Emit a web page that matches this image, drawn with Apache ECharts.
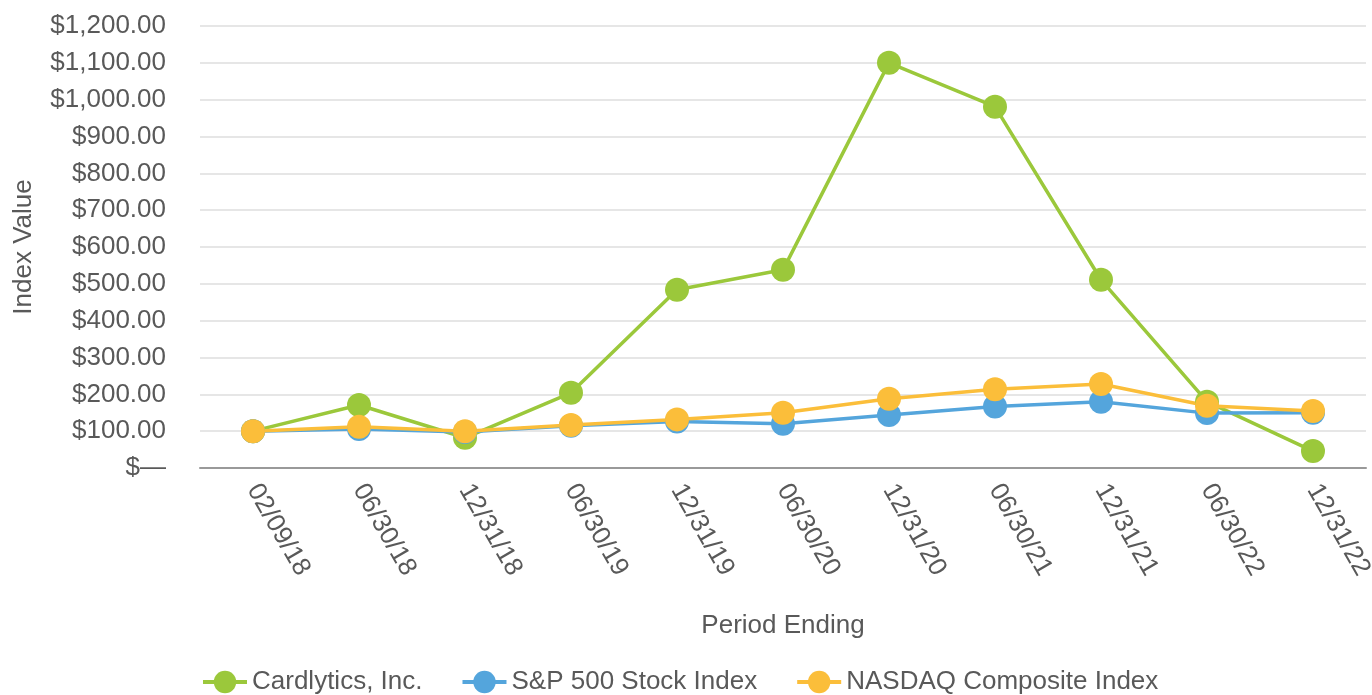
<!DOCTYPE html>
<html>
<head>
<meta charset="utf-8">
<script src="https://cdn.jsdelivr.net/npm/echarts@6/dist/echarts.min.js"></script>
<style>
  html, body { margin: 0; padding: 0; background: #fff; }
  #main { width: 1372px; height: 695px; }
</style>
</head>
<body>
<div id="main"></div>
<script>
const periods = ['02/09/18', '06/30/18', '12/31/18', '06/30/19', '12/31/19', '06/30/20', '12/31/20', '06/30/21', '12/31/21', '06/30/22', '12/31/22'];
const cardlytics = [100, 171, 82, 204, 484, 538, 1100, 981, 511, 180, 46];
const sp500 = [100, 106, 98, 115, 126, 120, 144, 167, 180, 149, 150];
const nasdaq = [100, 112, 100, 117, 132, 150, 188, 214, 228, 169, 155];

const textColor = '#595959';
const font = 'Liberation Sans, Arial, sans-serif';

function money(v) {
  if (v === 0) return '$\u2014';
  return '$' + v.toLocaleString('en-US', { minimumFractionDigits: 2, maximumFractionDigits: 2 });
}

function line(name, data, color) {
  return {
    name: name,
    type: 'line',
    data: data,
    symbol: 'circle',
    symbolSize: 24,
    lineStyle: { width: 3.5, color: color },
    itemStyle: { color: color },
    emphasis: { disabled: true }
  };
}

let myChart = echarts.init(document.getElementById('main'));
myChart.setOption({
  animation: false,
  textStyle: { fontFamily: font, color: textColor },
  grid: { left: 200, right: 6, top: 26, bottom: 227, containLabel: false, outerBoundsMode: 'none' },
  legend: {
    top: 664,
    left: 196,
    itemWidth: 44,
    itemHeight: 28,
    itemGap: 38,
    lineStyle: { width: 4 },
    textStyle: { fontSize: 26, color: textColor, fontFamily: font },
    data: ['Cardlytics, Inc.', 'S&P 500 Stock Index', 'NASDAQ Composite Index']
  },
  xAxis: {
    type: 'category',
    data: periods,
    boundaryGap: true,
    name: 'Period Ending',
    nameLocation: 'middle',
    nameGap: 145,
    nameTextStyle: { fontSize: 26, color: textColor },
    axisLine: { lineStyle: { color: '#999', width: 2 } },
    axisTick: { alignWithLabel: true, length: 10, lineStyle: { color: '#999', width: 2 } },
    axisLabel: { rotate: -60, fontSize: 26, color: textColor, margin: 18 }
  },
  yAxis: {
    type: 'value',
    min: 0,
    max: 1200,
    interval: 100,
    name: 'Index Value',
    nameLocation: 'middle',
    nameGap: 163,
    nameTextStyle: { fontSize: 26, color: textColor },
    axisLine: { show: false },
    axisTick: { show: false },
    splitLine: { lineStyle: { color: '#e6e6e6', width: 2 } },
    axisLabel: { fontSize: 26, color: textColor, margin: 34, formatter: money }
  },
  series: [
    line('Cardlytics, Inc.', cardlytics, '#9BC83B'),
    line('S&P 500 Stock Index', sp500, '#54A5DC'),
    line('NASDAQ Composite Index', nasdaq, '#FBBE3A')
  ]
});
</script>
</body>
</html>
